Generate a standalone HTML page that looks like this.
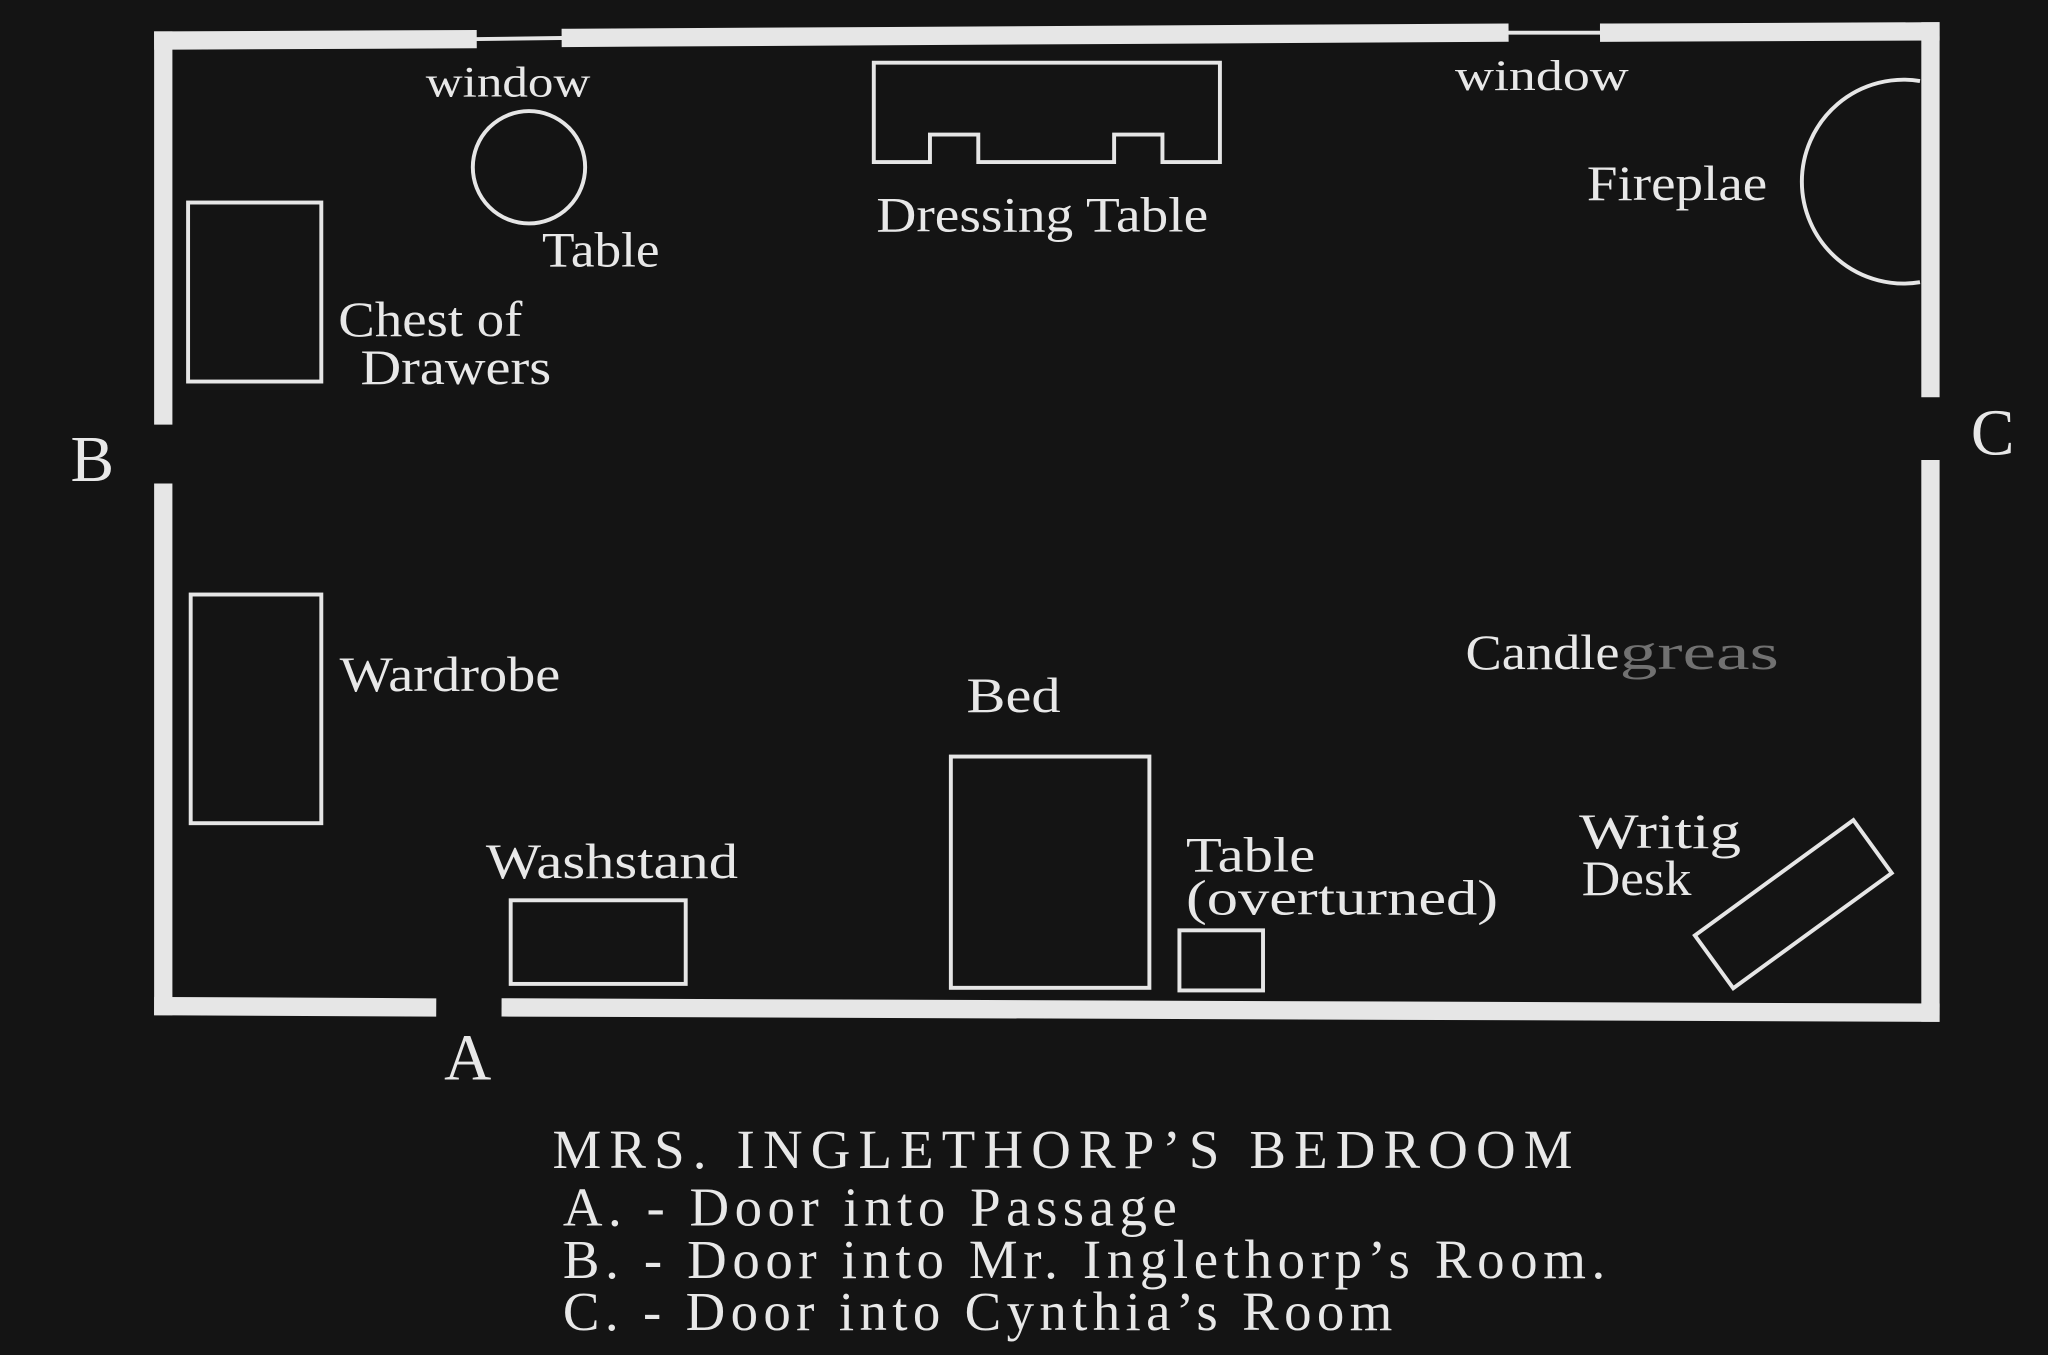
<!DOCTYPE html>
<html><head><meta charset="utf-8"><style>
html,body{margin:0;padding:0;background:#141414;width:2048px;height:1355px;overflow:hidden}
svg{display:block}
.l{font-family:"Liberation Serif",serif;fill:#e8e8e8;font-size:38px}
.c{font-family:"Liberation Serif",serif;fill:#e8e8e8;font-size:42px}
</style></head><body>
<svg width="2048" height="1355" viewBox="0 0 1568 1037" preserveAspectRatio="none">
<rect width="1568" height="1037" fill="#141414"/>
<g stroke="#e6e6e6" stroke-width="14" fill="none" stroke-linecap="square">
<line x1="125" y1="31" x2="358" y2="30"/>
<line x1="437" y1="29" x2="1148" y2="25"/>
<line x1="1232" y1="25" x2="1478" y2="24"/>
<line x1="125" y1="31" x2="125" y2="318"/>
<line x1="125" y1="377" x2="125" y2="770"/>
<line x1="125" y1="770" x2="327" y2="771"/>
<line x1="391" y1="771" x2="1478" y2="775"/>
<line x1="1478" y1="24" x2="1478" y2="297"/>
<line x1="1478" y1="359" x2="1478" y2="775"/>
</g>
<g stroke="#e6e6e6" stroke-width="3" fill="none">
<line x1="358" y1="30" x2="437" y2="29"/>
<line x1="1148" y1="25" x2="1232" y2="25"/>
<circle cx="405" cy="128" r="43"/>
<path d="M669 48 H934 V124 H890 V103 H853 V124 H749 V103 H712 V124 H669 Z"/>
<path d="M1470 62 A78 78 0 1 0 1470 216"/>
<rect x="144" y="155" width="102" height="137"/>
<rect x="146" y="455" width="100" height="175"/>
<rect x="391" y="689" width="134" height="64"/>
<rect x="728" y="579" width="152" height="177"/>
<rect x="903" y="712" width="64" height="46"/>
<rect x="-75" y="-25" width="150" height="50" transform="translate(1373 692) rotate(-36)"/>
</g>
<g class="l" lengthAdjust="spacingAndGlyphs">
<text x="326" y="74" font-size="33" textLength="126" lengthAdjust="spacingAndGlyphs">window</text>
<text x="1114" y="69" font-size="33" textLength="133" lengthAdjust="spacingAndGlyphs">window</text>
<text x="415" y="204" textLength="90" lengthAdjust="spacingAndGlyphs">Table</text>
<text x="671" y="177" textLength="254" lengthAdjust="spacingAndGlyphs">Dressing Table</text>
<text x="1215" y="153" textLength="138" lengthAdjust="spacingAndGlyphs">Fireplae</text>
<text x="259" y="257" textLength="141" lengthAdjust="spacingAndGlyphs">Chest of</text>
<text x="276" y="294" textLength="146" lengthAdjust="spacingAndGlyphs">Drawers</text>
<text x="260" y="529" textLength="169" lengthAdjust="spacingAndGlyphs">Wardrobe</text>
<text x="740" y="545" textLength="72" lengthAdjust="spacingAndGlyphs">Bed</text>
<text x="1122" y="512" textLength="118" lengthAdjust="spacingAndGlyphs">Candle</text>
<text x="1240" y="512" fill="#999" opacity="0.7" textLength="122" lengthAdjust="spacingAndGlyphs">greas</text>
<text x="372" y="672" textLength="193" lengthAdjust="spacingAndGlyphs">Washstand</text>
<text x="908" y="667" textLength="99" lengthAdjust="spacingAndGlyphs">Table</text>
<text x="908" y="700" textLength="239" lengthAdjust="spacingAndGlyphs">(overturned)</text>
<text x="1209" y="649" textLength="124" lengthAdjust="spacingAndGlyphs">Writig</text>
<text x="1211" y="685" textLength="84" lengthAdjust="spacingAndGlyphs">Desk</text>
<text x="54" y="368" font-size="50">B</text>
<text x="1509" y="348" font-size="50">C</text>
<text x="340" y="826" font-size="50">A</text>
</g>
<g class="c">
<text x="423" y="894" textLength="781" lengthAdjust="spacing">MRS. INGLETHORP’S BEDROOM</text>
<text x="431" y="938" textLength="470" lengthAdjust="spacing">A. - Door into Passage</text>
<text x="431" y="978" textLength="798" lengthAdjust="spacing">B. - Door into Mr. Inglethorp’s Room.</text>
<text x="431" y="1018" textLength="635" lengthAdjust="spacing">C. - Door into Cynthia’s Room</text>
</g>
</svg>
</body></html>
